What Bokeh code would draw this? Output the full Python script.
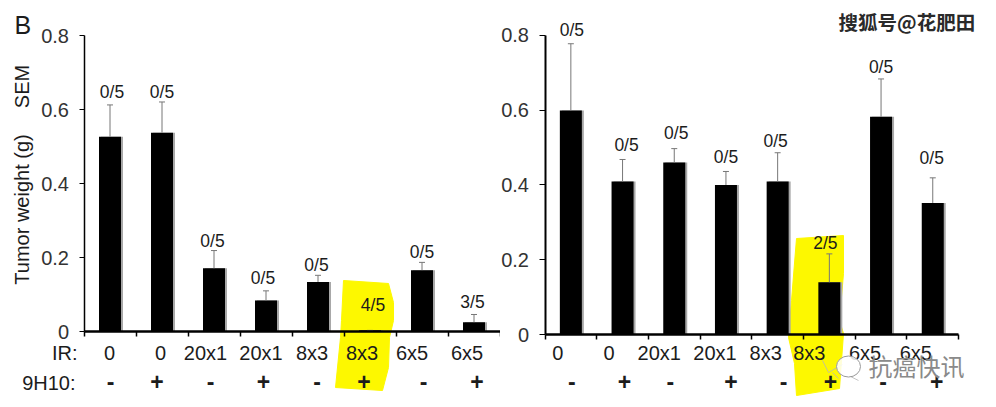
from bokeh.embed import file_html
from bokeh.resources import INLINE
from bokeh.plotting import figure
from bokeh.layouts import row
from bokeh.models import LinearAxis, FixedTicker, Range1d
from bokeh.core.properties import value
import math

ir_labels = ["0", "0", "20x1", "20x1", "8x3", "8x3", "6x5", "6x5"]
mab_labels = ["-", "+", "-", "+", "-", "+", "-", "+"]
y_ticks = [0, 0.2, 0.4, 0.6, 0.8]
y_tick_text = ["0", "0.2", "0.4", "0.6", "0.8"]

left_means = [0.527, 0.538, 0.171, 0.084, 0.134, 0.003, 0.166, 0.025]
left_tops = [0.613, 0.621, 0.219, 0.110, 0.152, 0.003, 0.187, 0.046]
left_frac = ["0/5", "0/5", "0/5", "0/5", "0/5", "4/5", "0/5", "3/5"]

right_means = [0.599, 0.409, 0.460, 0.400, 0.409, 0.140, 0.582, 0.352]
right_tops = [0.777, 0.468, 0.497, 0.436, 0.486, 0.216, 0.683, 0.419]
right_frac = ["0/5", "0/5", "0/5", "0/5", "0/5", "2/5", "0/5", "0/5"]

# label nudges, in screen pixels
L_IR_DX = [-0.5, -1.5, -8.5, -5, -6, -8, -10, -7]
L_MAB_DX = [0.5, -5, -3.5, -2.5, -1, -6, 1.5, 3]
L_FR_DX = [2, 0, -1.5, -3, -1.5, 3, 0, -1.5]
L_FR_DY = [-13, -10, -10, -13, -10, -25, -10, -12]
R_IR_DX = [-13, -13.4, -15, -11, -12, -20, -16, -17]
R_MAB_DX = [1, 2, -4, 5, 6, 1, 2, 4]
R_FR_DX = [1, 4, 2, 0, -2, -4, 0, -1]
R_FR_DY = [-14, -14.6, -16, -14, -11.6, -11, -12.4, -20]

FONT = value("Liberation Sans")
INK = "#1c1c1c"
HEIGHT = 400
TOP = 0
SPLIT = 500
END = 985


def panel(x0, x1, origin, unit_x, base, unit_y, means, tops, frac, ir_dx, mab_dx,
          fr_dx, fr_dy, row1, row2, hl, tick_out, standoff, ywidth):
    to_x = lambda px: (px - origin) / unit_x
    to_y = lambda py: (base - py) / unit_y
    p = figure(width=x1 - x0, height=HEIGHT, output_backend="svg", toolbar_location=None,
               x_axis_type=None, y_axis_type=None,
               x_range=Range1d(to_x(x0), to_x(x1)),
               y_range=Range1d(to_y(TOP + HEIGHT), to_y(TOP)),
               min_border=0, min_border_left=0, min_border_right=0,
               min_border_top=0, min_border_bottom=0, outline_line_color=None,
               background_fill_color="white", border_fill_color="white")
    p.grid.visible = False
    centers = [i + 0.5 for i in range(8)]

    p.patch([to_x(a) for a, _ in hl], [to_y(b) for _, b in hl],
            fill_color="#fdf800", line_color="#fdf800", line_width=1)

    bw = 22 / unit_x
    p.vbar(x=[c + 2 / unit_x for c in centers], top=means, bottom=0, width=bw,
           fill_color="#a8a8a8", line_color=None)
    p.vbar(x=centers, top=means, bottom=0, width=bw, fill_color="black", line_color=None)
    p.segment(x0=centers, x1=centers, y0=means, y1=tops, line_color="#777777", line_width=1)
    p.scatter(x=centers, y=tops, marker="dash", size=6, line_color="#777777", line_width=1)

    common = dict(text_font=FONT, text_color=INK, text_baseline="middle")
    p.text(x=centers, y=tops, text=frac, x_offset=fr_dx, y_offset=fr_dy,
           text_align="center", text_font_size="17.5px", **common)
    p.text(x=centers, y=[0] * 8, text=ir_labels, x_offset=ir_dx, y_offset=[row1] * 8,
           text_align="center", text_font_size="20px", **common)
    p.text(x=centers, y=[0] * 8, text=mab_labels, x_offset=mab_dx, y_offset=[row2] * 8,
           text_align="center", text_font_size="23px", text_font_style="bold", **common)

    xa = LinearAxis(fixed_location=0, ticker=FixedTicker(ticks=list(range(9))),
                    bounds=(0, 8), major_label_text_font_size="0px",
                    major_label_text_color=None, major_tick_in=0, major_tick_out=5,
                    major_tick_line_width=1.5, minor_tick_line_color=None,
                    axis_line_width=2.5, axis_line_color="black",
                    major_tick_line_color="black")
    p.add_layout(xa, "below")
    ya = LinearAxis(fixed_location=0, ticker=FixedTicker(ticks=y_ticks), bounds=(0, 0.8),
                    major_label_overrides=dict(zip(y_ticks, y_tick_text)),
                    major_label_text_font="Liberation Sans",
                    major_label_text_font_size="20px", major_label_text_color="#333333",
                    major_tick_in=0, major_tick_out=tick_out, major_tick_line_width=1,
                    major_label_standoff=standoff, minor_tick_line_color=None,
                    axis_line_width=ywidth, axis_line_color="black",
                    major_tick_line_color="black")
    p.add_layout(ya, "left")
    return p, to_x, to_y


left_hl = [(343, 280), (388, 283), (393, 302), (393, 320), (389, 337), (388, 367),
           (382, 390), (335, 387), (340, 337), (341, 320)]
right_hl = [(796, 238), (843, 235), (843, 273), (839, 320), (843, 333), (839, 388),
            (796, 395), (794, 363), (788, 337), (791, 300)]

p1, lx, ly = panel(0, SPLIT, 83.5, 52.0, 331.0, 369.6, left_means, left_tops, left_frac,
                   L_IR_DX, L_MAB_DX, L_FR_DX, L_FR_DY, 21, 50, left_hl, 5, 10, 1.5)
common = dict(text_font=FONT, text_color=INK, text_baseline="middle")
p1.text(x=[lx(14)], y=[ly(24)], text=["B"], text_align="left", text_font_size="25px", **common)
p1.text(x=[lx(21), lx(21)], y=[ly(209), ly(86)], text=["Tumor weight (g)", "SEM"],
        angle=math.pi / 2, text_align="center", text_font_size="20px", **common)
p1.text(x=[lx(77), lx(75)], y=[ly(352), ly(382)], text=["IR:", "9H10:"], text_align="right",
        text_font_size="20px", **common)

p2, rx, ry = panel(SPLIT, END, 544.5, 51.7, 334.3, 374.6, right_means, right_tops, right_frac,
                   R_IR_DX, R_MAB_DX, R_FR_DX, R_FR_DY, 18, 47, right_hl, 6, 10, 2)
p2.text(x=[rx(838)], y=[ry(21)], text=["搜狐号@花肥田"], text_align="left",
        text_font=value("Noto Sans CJK SC"), text_font_style="bold", text_font_size="19.5px",
        text_color="#2a2a2a", text_baseline="middle")
p2.segment(x0=[rx(822), rx(828), rx(832), rx(850)], y0=[ry(360), ry(372), ry(372), ry(376)],
           x1=[rx(828), rx(842), rx(838), rx(858)], y1=[ry(372), ry(364), ry(378), ry(380)],
           line_color="#b5b5b5", line_width=0.8)
p2.ellipse(x=[rx(848)], y=[ry(366)], width=[24 / 51.7], height=[21 / 374.6], fill_color="white",
           fill_alpha=0.85, line_color="#9a9a9a", line_width=1)
p2.text(x=[rx(868)], y=[ry(365)], text=["抗癌快讯"], text_align="left",
        text_font=value("Noto Sans CJK SC"), text_font_size="24px", text_color="#8a8a8a",
        text_baseline="middle")

layout = row(p1, p2, spacing=0)
open("out.html", "w").write(file_html(layout, INLINE))
